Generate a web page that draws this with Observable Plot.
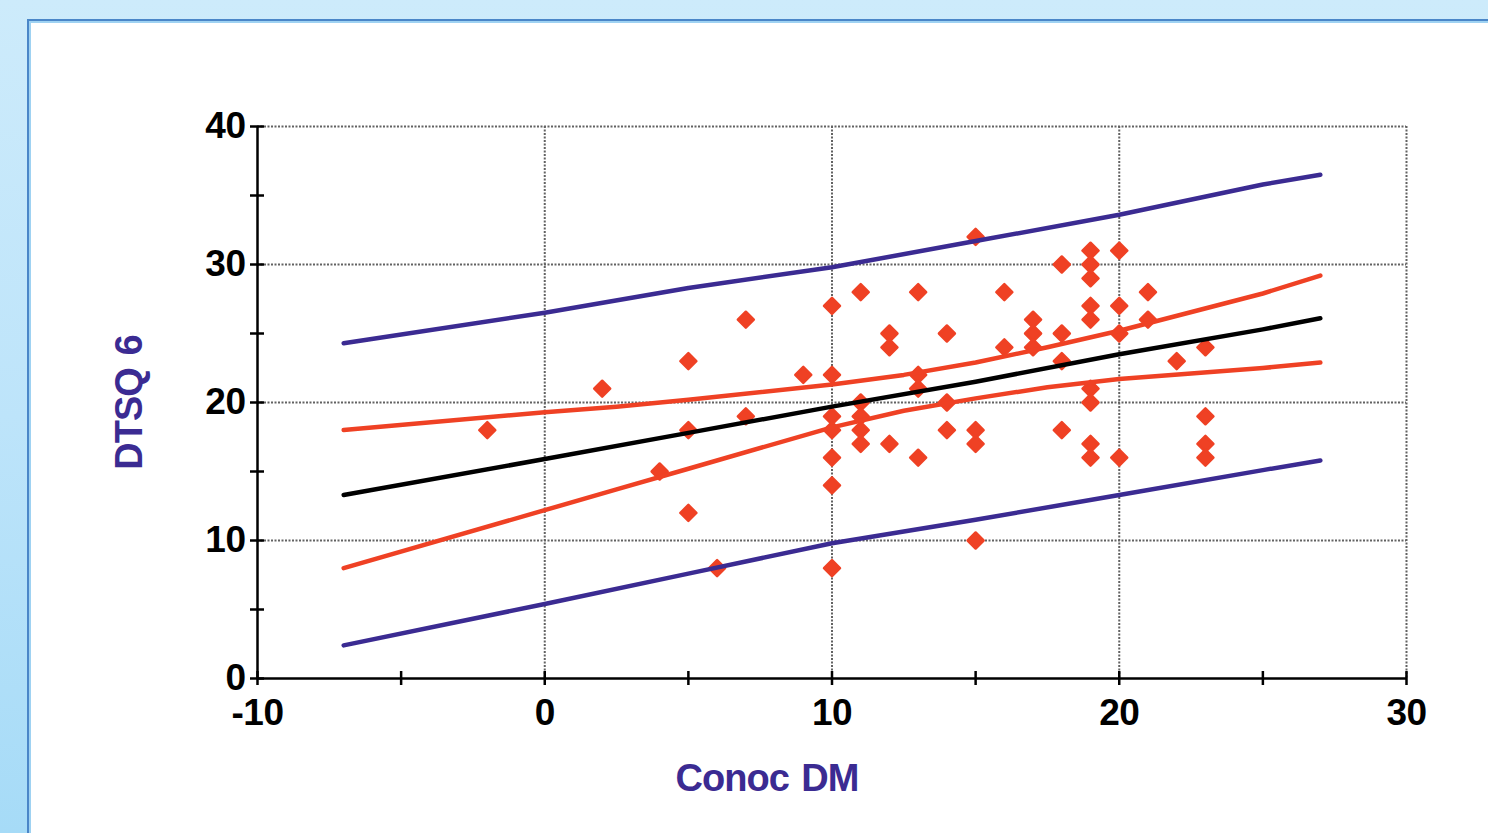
<!DOCTYPE html>
<html>
<head>
<meta charset="utf-8">
<script src="https://cdn.jsdelivr.net/npm/d3@7"></script>
<script src="https://cdn.jsdelivr.net/npm/@observablehq/plot@0.6"></script>
<style>
  html, body { margin: 0; padding: 0; width: 1488px; height: 833px; overflow: hidden; }
  body { background: linear-gradient(180deg, #cdebfb 0%, #bde4fa 50%, #a6dbf7 100%); position: relative; }
  #panel { position: absolute; left: 27px; top: 19px; right: 0; bottom: 0; background: #fff;
           border-left: 2px solid #4a86c8; border-top: 2px solid #4a86c8;
           box-shadow: inset 2px 2px 0 #9fd2f2; }
  #chart { position: absolute; left: 0; top: 0; }
  #chart svg .ticklbl text { letter-spacing: -0.5px; }
  #chart svg .axlbl text { letter-spacing: -1px; word-spacing: 3px; }
</style>
</head>
<body>
<div id="panel"></div>
<div id="chart"></div>
<script>
// Scatter data (Conoc DM, DTSQ 6)
const conocDM = [-2, 2, 4, 5, 5, 5, 6, 7, 7, 9,
  10, 10, 10, 10, 10, 10, 10,
  11, 11, 11, 11, 11,
  12, 12, 12,
  13, 13, 13, 13,
  14, 14, 14,
  15, 15, 15, 15,
  16, 16,
  17, 17, 17,
  18, 18, 18, 18,
  19, 19, 19, 19, 19, 19, 19, 19, 19,
  20, 20, 20, 20,
  21, 21,
  22,
  23, 23, 23, 23];
const dtsq6 = [18, 21, 15, 23, 18, 12, 8, 26, 19, 22,
  27, 22, 19, 18, 16, 14, 8,
  28, 20, 19, 18, 17,
  25, 24, 17,
  28, 22, 21, 16,
  25, 20, 18,
  32, 18, 17, 10,
  28, 24,
  26, 25, 24,
  30, 25, 23, 18,
  31, 30, 29, 27, 26, 21, 20, 17, 16,
  31, 27, 25, 16,
  28, 26,
  23,
  24, 19, 17, 16];

// Fitted line and prediction band, read at these x positions
const bandX     = [-7, 0, 5, 10, 15, 20, 25, 27];
const fitLine   = [13.3, 15.9, 17.8, 19.7, 21.5, 23.5, 25.3, 26.1];
const predUpper = [24.3, 26.5, 28.3, 29.8, 31.7, 33.6, 35.8, 36.5];
const predLower = [2.4, 5.4, 7.6, 9.8, 11.5, 13.3, 15.1, 15.8];
// Confidence band, read at these x positions
const confX     = [-7, 0, 2.5, 5, 10, 12.5, 15, 17.5, 20, 25, 27];
const confUpper = [18.0, 19.3, 19.7, 20.2, 21.3, 22.0, 22.9, 24.0, 25.2, 27.9, 29.2];
const confLower = [8.0, 12.2, 13.7, 15.2, 18.2, 19.4, 20.3, 21.1, 21.7, 22.5, 22.9];

// Axes
const xTickLabels = [-10, 0, 10, 20, 30];
const yTickLabels = [0, 10, 20, 30, 40];
const xTickMarks = [-10, -5, 0, 5, 10, 15, 20, 25, 30];
const yTickMarks = [0, 5, 10, 15, 20, 25, 30, 35, 40];
const xGrid = [0, 10, 20, 30];
const yGrid = [10, 20, 30, 40];
const xLabel = "Conoc DM";
const yLabel = "DTSQ 6";

const RED = "#ef4124";
const PURPLE = "#3b2b92";
const GRID = "#626262";
const FONT = "'Liberation Sans', Arial, sans-serif";

const points = conocDM.map((x, i) => ({x, y: dtsq6[i]}));
const series = (name, xs, ys) => xs.map((x, i) => ({series: name, x, y: ys[i]}));
const predRows = [...series("predUpper", bandX, predUpper), ...series("predLower", bandX, predLower)];
const confRows = [...series("confUpper", confX, confUpper), ...series("confLower", confX, confLower)];
const fitRows = series("fit", bandX, fitLine);

const chart = Plot.plot({
  width: 1488,
  height: 833,
  marginLeft: 257,
  marginRight: 82,
  marginTop: 126,
  marginBottom: 155,
  x: {domain: [-10, 30]},
  y: {domain: [0, 40]},
  style: {background: "transparent", overflow: "visible", fontFamily: FONT},
  marks: [
    Plot.ruleX(xGrid, {stroke: GRID, strokeWidth: 2, strokeDasharray: "2,1.5"}),
    Plot.ruleY(yGrid, {stroke: GRID, strokeWidth: 2, strokeDasharray: "2,1.5"}),
    Plot.dot(points, {x: "x", y: "y", symbol: "diamond2", r: 7.2, fill: RED, stroke: RED, strokeWidth: 2.5, strokeLinejoin: "round"}),
    Plot.line(predRows, {x: "x", y: "y", z: "series", stroke: PURPLE, strokeWidth: 4.5}),
    Plot.line(confRows, {x: "x", y: "y", z: "series", stroke: RED, strokeWidth: 4.5}),
    Plot.line(fitRows, {x: "x", y: "y", z: "series", stroke: "#000", strokeWidth: 4.5}),
    Plot.ruleX([-10], {stroke: "#000", strokeWidth: 2.5}),
    Plot.ruleY([0], {stroke: "#000", strokeWidth: 2.5}),
    Plot.ruleX(xTickMarks, {x: d => d, y1: 0, y2: 0, insetTop: -7, insetBottom: -7, stroke: "#000", strokeWidth: 2.5}),
    Plot.ruleY(yTickMarks, {y: d => d, x1: -10, x2: -10, insetLeft: -7, insetRight: -7, stroke: "#000", strokeWidth: 2.5}),
    Plot.axisX({ticks: xTickLabels, tickSize: 0, tickPadding: 20, tickFormat: d => String(d), label: null, fontSize: 37, fontWeight: "bold", fill: "#000", fontFamily: FONT, className: "ticklbl"}),
    Plot.axisY({ticks: yTickLabels, tickSize: 0, tickPadding: 12, tickFormat: d => String(d), label: null, fontSize: 37, fontWeight: "bold", fill: "#000", fontFamily: FONT, className: "ticklbl"}),
    Plot.text([xLabel], {text: d => d, frameAnchor: "bottom", dx: -65, dy: 100, lineAnchor: "middle", fontSize: 38, fontWeight: "bold", fill: PURPLE, fontFamily: FONT, className: "axlbl"}),
    Plot.text([yLabel], {text: d => d, frameAnchor: "left", dx: -128, rotate: -90, lineAnchor: "middle", textAnchor: "middle", fontSize: 38, fontWeight: "bold", fill: PURPLE, fontFamily: FONT, className: "axlbl"})
  ]
});
document.getElementById("chart").appendChild(chart);
</script>
</body>
</html>
